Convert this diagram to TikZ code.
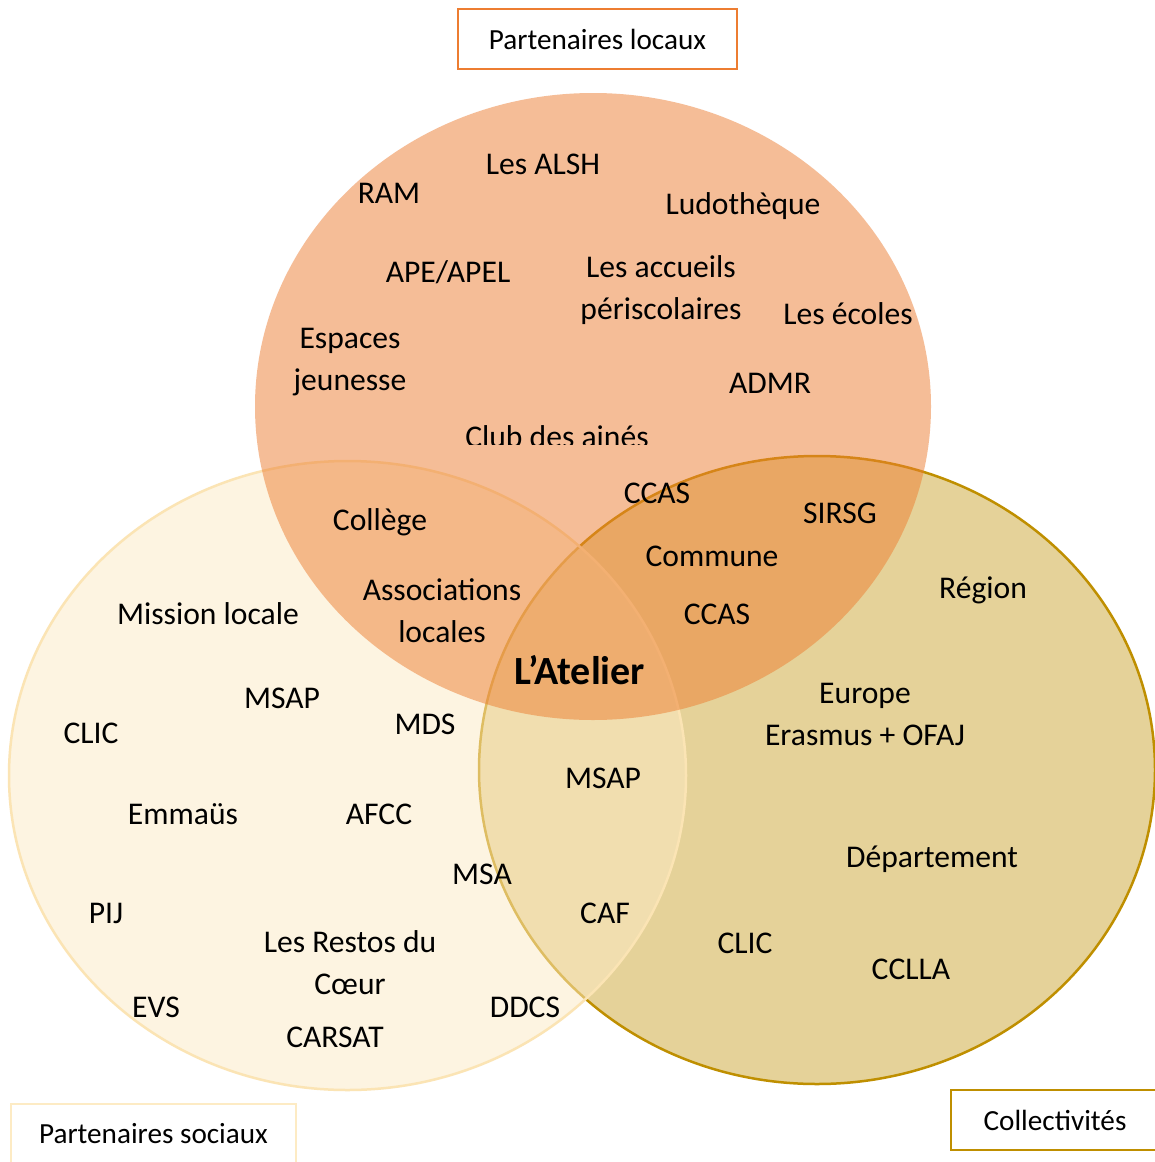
\documentclass[tikz,border=0pt]{standalone}
\usepackage{fontspec}
\setmainfont{Carlito}
\definecolor{orangeA}{HTML}{ED7D31}
\definecolor{goldD}{HTML}{BF8F00}
\definecolor{creamF}{HTML}{FDEBC5}
\definecolor{creamB}{HTML}{FBE4B4}
\definecolor{boxcream}{HTML}{FDEBC4}
\begin{document}
\begin{tikzpicture}[x=1pt,y=-1pt,
  lbl/.style={anchor=base, inner sep=0pt, font=\fontsize{31.6}{42}\selectfont},
  bold lbl/.style={anchor=base, inner sep=0pt, font=\fontsize{40}{46}\selectfont\bfseries},
  catbox/.style={line width=2.5pt, fill=white, inner sep=0pt, font=\fontsize{29.2}{35}\selectfont}]
\useasboundingbox (0,0) rectangle (1154,1162);
\fill[white] (0,0) rectangle (1154,1162);

% circles
\fill[goldD, fill opacity=0.4] (817,770) ellipse [x radius=338pt, y radius=314pt];
\draw[goldD, line width=2.5pt] (817,770) ellipse [x radius=338pt, y radius=314pt];
\fill[creamF, fill opacity=0.5] (347.5,775.5) ellipse [x radius=338.5pt, y radius=314.5pt];
\draw[creamB, line width=2.5pt] (347.5,775.5) ellipse [x radius=338.5pt, y radius=314.5pt];
\fill[orangeA, fill opacity=0.5] (593,406.5) ellipse [x radius=338pt, y radius=313.5pt];

% category boxes
\node[catbox, draw=orangeA, minimum width=279pt, minimum height=60pt] (boxlocaux) at (597.5,39) {Partenaires locaux};
\node[catbox, draw=boxcream, minimum width=285pt, minimum height=60pt] (boxsociaux) at (153.5,1134) {Partenaires sociaux};
\node[catbox, draw=goldD, minimum width=208pt, minimum height=60pt] (boxcoll) at (1055,1120) {Collectivités};

% partenaires locaux
\node[lbl] (alsh) at (543,174) {Les ALSH};
\node[lbl] (ram) at (389,203) {RAM};
\node[lbl] (ludo) at (743,214) {Ludothèque};
\node[lbl] (ape) at (448,282) {APE/APEL};
\node[lbl] (accA) at (661,277) {Les accueils};
\node[lbl] (accB) at (661,319) {périscolaires};
\node[lbl] (ecoles) at (848,324) {Les écoles};
\node[lbl] (espA) at (350,348) {Espaces};
\node[lbl] (espB) at (350,390) {jeunesse};
\node[lbl] (admr) at (770,393) {ADMR};
\begin{scope}
\clip (400,400) rectangle (720,444);
\node[lbl] (club) at (557,447) {Club des ainés};
\end{scope}
\node[lbl] (ccasA) at (657,503) {CCAS};

% intersections
\node[lbl] (sirsg) at (840,523) {SIRSG};
\node[lbl] (college) at (380,530) {Collège};
\node[lbl] (commune) at (712,566) {Commune};
\node[lbl] (assoA) at (442,600) {Associations};
\node[lbl] (assoB) at (442,642) {locales};
\node[lbl] (ccasB) at (717,624) {CCAS};
\node[bold lbl] (atelier) at (580,684) {L’Atelier};
\node[lbl] (msapB) at (603,788) {MSAP};
\node[lbl] (caf) at (605,923) {CAF};

% collectivites
\node[lbl] (region) at (983,598) {Région};
\node[lbl] (europe) at (865,703) {Europe};
\node[lbl] (erasmus) at (865,745) {Erasmus + OFAJ};
\node[lbl] (dept) at (932,867) {Département};
\node[lbl] (clicB) at (745,953) {CLIC};
\node[lbl] (cclla) at (911,979) {CCLLA};

% partenaires sociaux
\node[lbl] (mission) at (208,624) {Mission locale};
\node[lbl] (msapA) at (282,708) {MSAP};
\node[lbl] (mds) at (425,734) {MDS};
\node[lbl] (clicA) at (91,743) {CLIC};
\node[lbl] (emmaus) at (183,824) {Emmaüs};
\node[lbl] (afcc) at (379,824) {AFCC};
\node[lbl] (msa) at (482,884) {MSA};
\node[lbl] (pij) at (106,923) {PIJ};
\node[lbl] (restosA) at (350,952) {Les Restos du};
\node[lbl] (restosB) at (350,994) {Cœur};
\node[lbl] (evs) at (156,1017) {EVS};
\node[lbl] (ddcs) at (525,1017) {DDCS};
\node[lbl] (carsat) at (335,1047) {CARSAT};
\end{tikzpicture}
\end{document}
